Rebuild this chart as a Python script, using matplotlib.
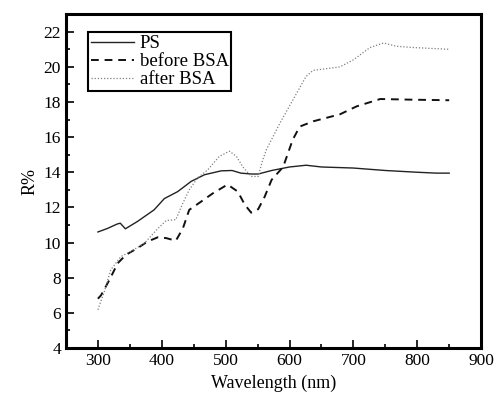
import matplotlib
matplotlib.use("Agg")
import matplotlib.pyplot as plt
from matplotlib.ticker import MultipleLocator

plt.rcParams['font.family'] = ['Liberation Serif', 'DejaVu Serif']

# PS (solid)
ps_wl = [300, 315, 330, 335, 343, 362, 388, 404, 425, 446, 467, 493, 510, 524,
         540, 551, 572, 600, 626, 650, 700, 750, 800, 830, 850]
ps_r = [10.6, 10.8, 11.05, 11.1, 10.78, 11.2, 11.86, 12.5, 12.9, 13.48, 13.86,
        14.08, 14.1, 13.95, 13.9, 13.9, 14.1, 14.3, 14.4, 14.3, 14.24, 14.1,
        14.0, 13.95, 13.95]

# before BSA (dashed)
before_wl = [300, 305, 318, 331, 344, 362, 378, 394, 407, 422, 433, 443, 462,
             480, 503, 519, 530, 540, 551, 561, 572, 590, 605, 616, 637, 679,
             705, 742, 794, 850]
before_r = [6.8, 7.0, 7.87, 8.82, 9.3, 9.68, 10.06, 10.3, 10.25, 10.1, 10.8,
            11.86, 12.34, 12.8, 13.3, 12.9, 12.15, 11.7, 11.9, 12.6, 13.57,
            14.3, 15.85, 16.6, 16.9, 17.3, 17.75, 18.17, 18.13, 18.1]

# after BSA (dotted)
after_wl = [300, 310, 320, 336, 352, 373, 394, 407, 422, 433, 443, 456, 472,
            490, 506, 517, 527, 540, 551, 558, 564, 585, 605, 626, 637, 679,
            700, 726, 747, 768, 794, 850]
after_r = [6.17, 7.2, 8.44, 9.2, 9.5, 9.97, 10.8, 11.25, 11.3, 12.24, 13.0,
           13.67, 14.14, 14.9, 15.2, 14.9, 14.3, 13.76, 13.76, 14.7, 15.3, 16.8,
           18.1, 19.46, 19.8, 20.0, 20.4, 21.1, 21.36, 21.17, 21.1, 21.0]

fig = plt.figure(figsize=(4.96, 4.05), dpi=100)
ax = fig.add_axes([0.133, 0.141, 0.837, 0.824])

ax.plot(ps_wl, ps_r, color='#222222', lw=1.0, label='PS')
ax.plot(before_wl, before_r, color='#111111', lw=1.4, ls=(0, (4, 3)), label='before BSA')
ax.plot(after_wl, after_r, color='#808080', lw=0.9, ls=(0, (1, 1.5)), label='after BSA')

ax.set_xlim(250, 900)
ax.set_ylim(4, 23)
ax.xaxis.set_major_locator(MultipleLocator(100))
ax.xaxis.set_minor_locator(MultipleLocator(50))
ax.yaxis.set_major_locator(MultipleLocator(2))
ax.yaxis.set_minor_locator(MultipleLocator(1))
ax.tick_params(which='both', direction='in', top=False, right=False,
               labelsize=12.5, width=1.2)
ax.tick_params(which='major', length=6)
ax.tick_params(which='minor', length=3)
for s in ax.spines.values():
    s.set_linewidth(2.2)

ax.set_xlabel('Wavelength (nm)', fontsize=13)
ax.set_ylabel('R%', fontsize=13)

leg = ax.legend(loc='upper left', bbox_to_anchor=(0.053, 0.946), fontsize=13.5,
                frameon=True, fancybox=False, borderpad=0.15, labelspacing=0.05,
                handlelength=2.3, handletextpad=0.3, borderaxespad=0)
leg.get_frame().set_edgecolor('black')
leg.get_frame().set_linewidth(1.5)
leg.get_frame().set_alpha(1)

fig.savefig('out.png', dpi=100)
